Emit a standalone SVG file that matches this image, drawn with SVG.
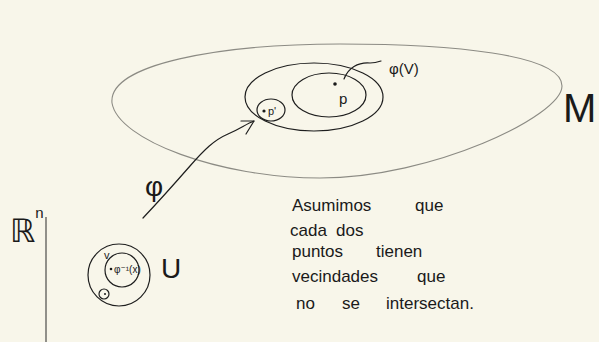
<svg xmlns="http://www.w3.org/2000/svg" width="599" height="342" viewBox="0 0 599 342">
  <defs>
    <style>
      .ink { fill: none; stroke: #1e1e1e; stroke-width: 1.2; stroke-linecap: round; stroke-linejoin: round; }
      .thin { fill: none; stroke: #2a2a2a; stroke-width: 1; }
      .grey { fill: none; stroke: #8c8b84; stroke-width: 1.1; }
      .t { font-family: "Liberation Sans", "DejaVu Sans", sans-serif; fill: #1a1a1a; }
      .hand { font-size: 17px; }
      .dot { fill: #1a1a1a; }
    </style>
  </defs>
  <rect x="0" y="0" width="599" height="342" fill="#f8f6ea"/>

  <g id="manifold-M">
    <path class="grey" d="M112,103 C108,64 220,44 340,44 C450,44 562,54 562,86 C562,116 432,178 320,178 C220,178 118,140 112,103 Z"/>
    <text class="t" x="563" y="122" font-size="40">M</text>
  </g>

  <g id="neighbourhood-p">
    <ellipse class="ink" cx="314" cy="97" rx="69" ry="34"/>
  </g>

  <g id="phi-V">
    <ellipse class="ink" cx="329" cy="95" rx="37" ry="22"/>
    <circle class="dot" cx="335" cy="84" r="1.8"/>
    <text class="t" x="339" y="104" font-size="15">p</text>
    <text class="t" x="389" y="74" font-size="15">φ(V)</text>
  </g>

  <g id="neighbourhood-p-prime">
    <ellipse class="ink" cx="271" cy="110" rx="14" ry="11"/>
    <circle class="dot" cx="264" cy="111" r="1.6"/>
    <text class="t" x="268" y="115" font-size="11">p'</text>
  </g>

  <g id="domain-U">
    <circle class="ink" cx="119" cy="275" r="31"/>
    <circle class="ink" cx="122" cy="270" r="17"/>
    <text class="t" x="104" y="259" font-size="11">v</text>
    <circle class="dot" cx="111" cy="269" r="1.3"/>
    <text class="t" x="114" y="273" font-size="10">φ⁻¹(x)</text>
    <circle class="ink" cx="104" cy="294" r="5"/>
    <circle class="dot" cx="105" cy="294" r="1"/>
    <text class="t" x="161" y="278" font-size="28">U</text>
  </g>

  <g id="space-Rn">
    <text class="t" x="10" y="242" font-size="32">ℝ<tspan font-size="15" dy="-24">n</tspan></text>
    <line class="thin" x1="46" y1="217" x2="46" y2="342"/>
  </g>

  <g id="note">
    <text class="t hand" x="292" y="211">Asumimos</text>
    <text class="t hand" x="415" y="211">que</text>
    <text class="t hand" x="290" y="236">cada</text>
    <text class="t hand" x="336" y="236">dos</text>
    <text class="t hand" x="292" y="257">puntos</text>
    <text class="t hand" x="376" y="257">tienen</text>
    <text class="t hand" x="292" y="282">vecindades</text>
    <text class="t hand" x="417" y="282">que</text>
    <text class="t hand" x="296" y="309">no</text>
    <text class="t hand" x="342" y="309">se</text>
    <text class="t hand" x="386" y="309">intersectan.</text>
  </g>

  <g id="connectors">
    <path class="ink" d="M143,218 C160,200 176,182 190,166 C204,150 214,140 228,134 C240,129 246,124 254,121"/>
    <path class="ink" d="M241,121 L254,121 L246,134"/>
    <text class="t" x="145" y="196" font-size="28">φ</text>
    <path class="ink" d="M344,79 C348,68 358,62 370,63 C375,63 378,62 381,61"/>
  </g>
</svg>
